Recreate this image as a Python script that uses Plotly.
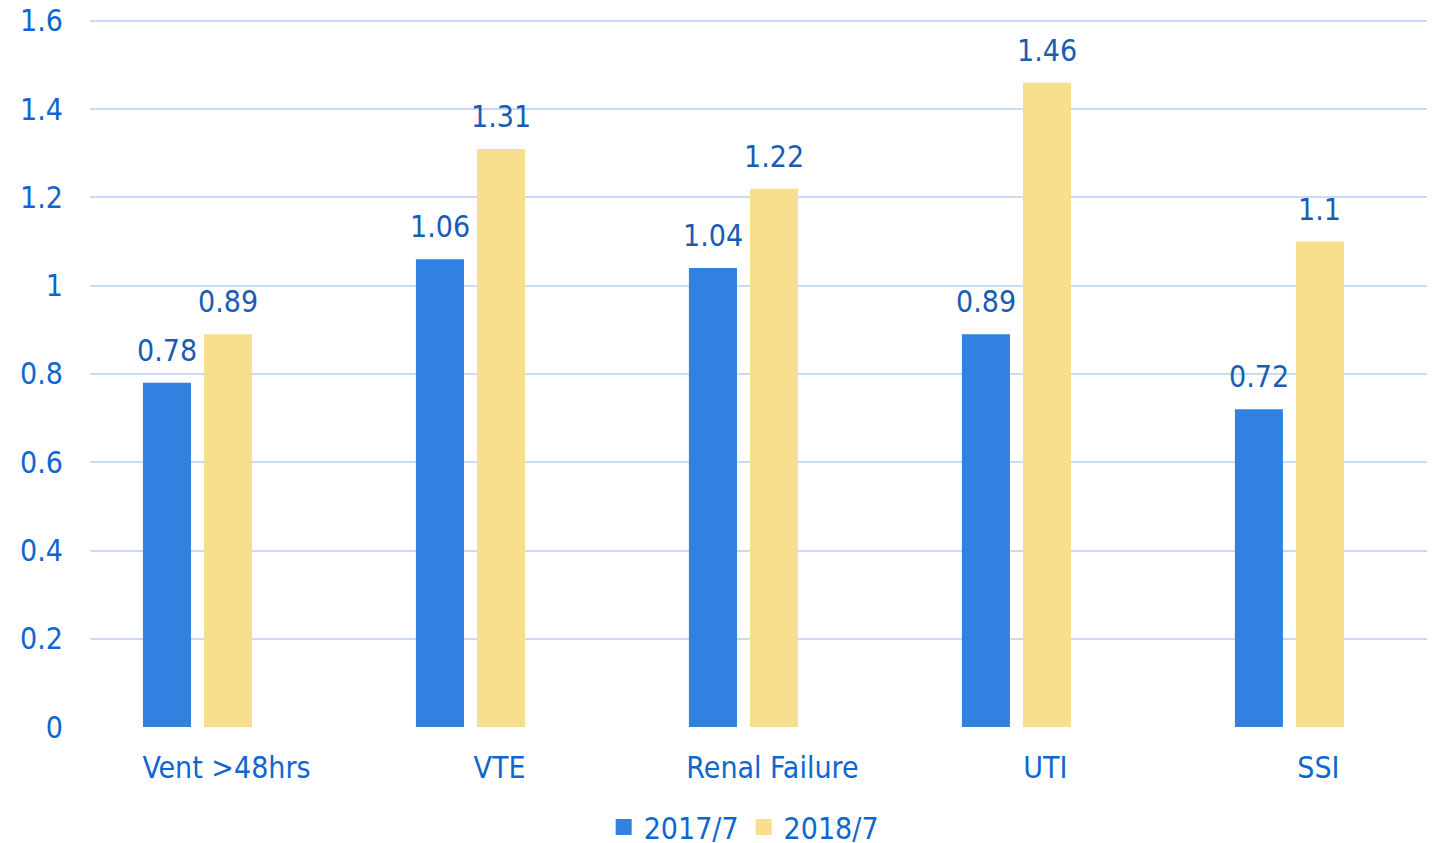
import plotly.graph_objects as go

categories = ["Vent >48hrs", "VTE", "Renal Failure", "UTI", "SSI"]
series_names = ["2017/7", "2018/7"]
values_2017 = [0.78, 1.06, 1.04, 0.89, 0.72]
values_2018 = [0.89, 1.31, 1.22, 1.46, 1.10]
y_ticks = [0, 0.2, 0.4, 0.6, 0.8, 1, 1.2, 1.4, 1.6]

FONT = "DejaVu Sans Condensed, DejaVu Sans, sans-serif"
FS = 30
TICK_COLOR = "#0F66D0"
LABEL_COLOR = "#1A5CB4"
BLUE = "#3182E0"
YELLOW = "#F7DF8E"
GRID = "#C7DCF4"

BAR_W = 0.176
OFFSETS = [-0.306, -0.0824]
colors = [BLUE, YELLOW]

x = list(range(len(categories)))
fig = go.Figure()
for name, vals, col, off in zip(series_names, [values_2017, values_2018], colors, OFFSETS):
    fig.add_trace(go.Bar(
        x=x, y=vals, name=name, marker=dict(color=col, line=dict(width=0)),
        width=BAR_W, offset=off, showlegend=False,
    ))
# legend entries with larger square swatches
for name, col in zip(series_names, colors):
    fig.add_trace(go.Scatter(
        x=[None], y=[None], mode="markers", name=name,
        marker=dict(symbol="square", size=17, color=col),
    ))

annotations = []
for vals, off in zip([values_2017, values_2018], OFFSETS):
    for i, v in enumerate(vals):
        annotations.append(dict(
            x=i + off + BAR_W / 2, y=v, xref="x", yref="y",
            text=f"{v:g}", showarrow=False, yanchor="bottom", yshift=13,
            font=dict(family=FONT, size=FS, color=LABEL_COLOR),
        ))

fig.update_layout(
    width=1427, height=850,
    margin=dict(l=82, r=0, t=11, b=131),
    plot_bgcolor="white", paper_bgcolor="white",
    barmode="overlay",
    font=dict(family=FONT, size=FS, color=TICK_COLOR),
    annotations=annotations,
    showlegend=True,
    legend=dict(
        orientation="h", x=0.486, xanchor="center", y=-0.1412, yanchor="middle",
        font=dict(family=FONT, size=FS, color=TICK_COLOR),
        itemsizing="trace", traceorder="normal",
    ),
    xaxis=dict(
        range=[-0.5, 4.427], tickvals=x, ticktext=categories,
        showgrid=False, zeroline=False, showline=False, ticks="",
        ticklabelstandoff=20, automargin=False,
        tickfont=dict(family=FONT, size=FS, color=TICK_COLOR),
    ),
    yaxis=dict(
        range=[0, 1.6045], tickvals=y_ticks, ticktext=[f"{t:g}" for t in y_ticks],
        showgrid=True, gridcolor=GRID, gridwidth=2, zeroline=False, showline=False,
        ticks="", ticklabelstandoff=26, automargin=False, ticklabeloverflow="allow",
        tickfont=dict(family=FONT, size=FS, color=TICK_COLOR),
    ),
)

fig.write_html("out.html")
